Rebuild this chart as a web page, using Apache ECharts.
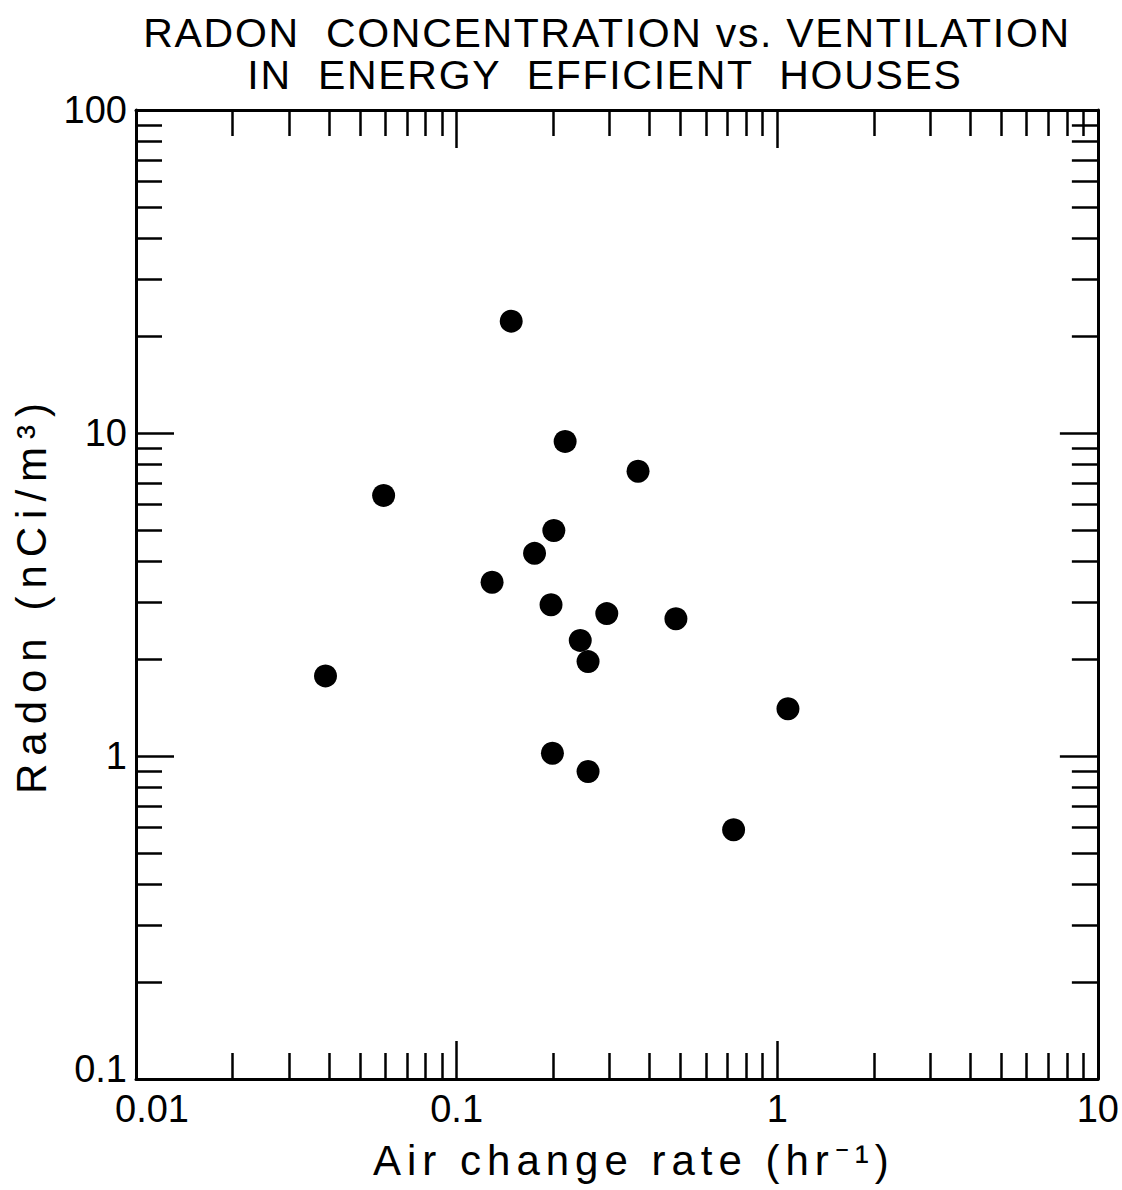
<!DOCTYPE html>
<html>
<head>
<meta charset="utf-8">
<script src="https://cdn.jsdelivr.net/npm/echarts@6/dist/echarts.min.js"></script>
<style>
html, body { margin: 0; padding: 0; background: #fff; }
#chart { width: 1122px; height: 1190px; }
#chart text[style*="Arimo"] { letter-spacing: 1.7px; }
#chart text[style*="Helvetica"] { letter-spacing: 6px; }
#chart text[style*="Arial"] { letter-spacing: 8px; }
</style>
</head>
<body>
<div id="chart"></div>
<script>
// ---- data ----
const airChange = [0.148, 0.218, 0.368, 0.0592, 0.201, 0.175, 0.129, 0.197, 0.294, 0.483, 0.243, 0.257, 0.039, 1.08, 0.199, 0.257, 0.731];
const radon     = [22.2, 9.42, 7.61, 6.41, 4.99, 4.24, 3.45, 2.94, 2.76, 2.66, 2.28, 1.96, 1.77, 1.40, 1.02, 0.895, 0.591];

const xMajorTicks = [0.01, 0.1, 1, 10];
const xTickLabels = ['0.01', '0.1', '1', '10'];
const xMinorTicks = [0.02, 0.03, 0.04, 0.05, 0.06, 0.07, 0.08, 0.09,
                     0.2, 0.3, 0.4, 0.5, 0.6, 0.7, 0.8, 0.9,
                     2, 3, 4, 5, 6, 7, 8, 9];
const yMajorTicks = [0.1, 1, 10, 100];
const yTickLabels = ['0.1', '1', '10', '100'];
const yMinorTicks = [0.2, 0.3, 0.4, 0.5, 0.6, 0.7, 0.8, 0.9,
                     2, 3, 4, 5, 6, 7, 8, 9,
                     20, 30, 40, 50, 60, 70, 80, 90];

const titleLine1 = 'RADON  CONCENTRATION vs. VENTILATION';
const titleLine2 = 'IN  ENERGY  EFFICIENT  HOUSES';
const xName = 'Air change rate (hr\u207B\u00B9)';
const yName = 'Radon (nCi/m\u00B3)';

// ---- chart ----
const chart = echarts.init(document.getElementById('chart'), null, { renderer: 'svg' });
const BLACK = '#000';
const tickFont = "'Liberation Sans', sans-serif";

function labelFor(list, labels, v) {
  for (let i = 0; i < list.length; i++) {
    if (Math.abs(Math.log10(v) - Math.log10(list[i])) < 1e-6) return labels[i];
  }
  return '';
}

function xAxisPair(position, withLabels) {
  return [
    {
      type: 'log', logBase: 10, min: 0.01, max: 10, position: position,
      axisLine: { show: true, onZero: false, lineStyle: { color: BLACK, width: 3 } },
      axisTick: { show: true, inside: true, length: 38, customValues: xMajorTicks, lineStyle: { color: BLACK, width: 2.5 } },
      minorTick: { show: false },
      splitLine: { show: false },
      axisLabel: withLabels ? {
        show: true, customValues: xMajorTicks, margin: 11,
        fontFamily: tickFont, fontSize: 38, color: BLACK,
        formatter: function (v) {
          const s = labelFor(xMajorTicks, xTickLabels, v);
          return v === xMajorTicks[0] ? '{first|' + s + '}' : s;
        },
        rich: { first: { fontFamily: tickFont, fontSize: 38, color: BLACK, padding: [0, 0, 0, 32] } }
      } : { show: false },
      name: withLabels ? xName : '',
      nameLocation: 'middle', nameGap: 60,
      nameTextStyle: { fontFamily: "'Liberation Sans', Helvetica", fontSize: 42, color: BLACK, padding: [0, 0, 0, 34] }
    },
    {
      type: 'log', logBase: 10, min: 0.01, max: 10, position: position,
      axisLine: { show: false },
      axisTick: { show: true, inside: true, length: 26, customValues: xMinorTicks, lineStyle: { color: BLACK, width: 2.5 } },
      splitLine: { show: false },
      axisLabel: { show: false }
    }
  ];
}

function yAxisPair(position, withLabels) {
  return [
    {
      type: 'log', logBase: 10, min: 0.1, max: 100, position: position,
      axisLine: { show: true, onZero: false, lineStyle: { color: BLACK, width: 3 } },
      axisTick: { show: true, inside: true, length: 38, customValues: yMajorTicks, lineStyle: { color: BLACK, width: 2.5 } },
      splitLine: { show: false },
      axisLabel: withLabels ? {
        show: true, customValues: yMajorTicks, margin: 9,
        fontFamily: tickFont, fontSize: 38, color: BLACK,
        formatter: function (v) {
          const s = labelFor(yMajorTicks, yTickLabels, v);
          return v === yMajorTicks[0] ? '{first|' + s + '}' : s;
        },
        rich: { first: { fontFamily: tickFont, fontSize: 38, color: BLACK, padding: [0, 0, 20, 0] } }
      } : { show: false },
      name: withLabels ? yName : '',
      nameLocation: 'middle', nameGap: 64, nameRotate: 90,
      nameTextStyle: { fontFamily: "'Liberation Sans', Arial", fontSize: 42, color: BLACK }
    },
    {
      type: 'log', logBase: 10, min: 0.1, max: 100, position: position,
      axisLine: { show: false },
      axisTick: { show: true, inside: true, length: 26, customValues: yMinorTicks, lineStyle: { color: BLACK, width: 2.5 } },
      splitLine: { show: false },
      axisLabel: { show: false }
    }
  ];
}

const points = airChange.map((x, i) => [x, radon[i]]);
const titleStyle = { fontFamily: "'Liberation Sans', Arimo", fontSize: 41, fontWeight: 'normal', color: BLACK, lineHeight: 41 };

chart.setOption({
  backgroundColor: '#fff',
  animation: false,
  title: [
    { text: titleLine1, left: 607, top: 12, textAlign: 'center', padding: 0, textStyle: titleStyle },
    { text: titleLine2, left: 605, top: 54, textAlign: 'center', padding: 0, textStyle: titleStyle }
  ],
  grid: { left: 136, right: 22, top: 110, bottom: 111, containLabel: false },
  xAxis: [].concat(xAxisPair('bottom', true), xAxisPair('top', false)),
  yAxis: [].concat(yAxisPair('left', true), yAxisPair('right', false)),
  series: [{
    type: 'scatter',
    xAxisIndex: 0, yAxisIndex: 0,
    symbol: 'circle', symbolSize: 23,
    itemStyle: { color: BLACK, opacity: 1 },
    data: points
  }]
});
</script>
</body>
</html>
